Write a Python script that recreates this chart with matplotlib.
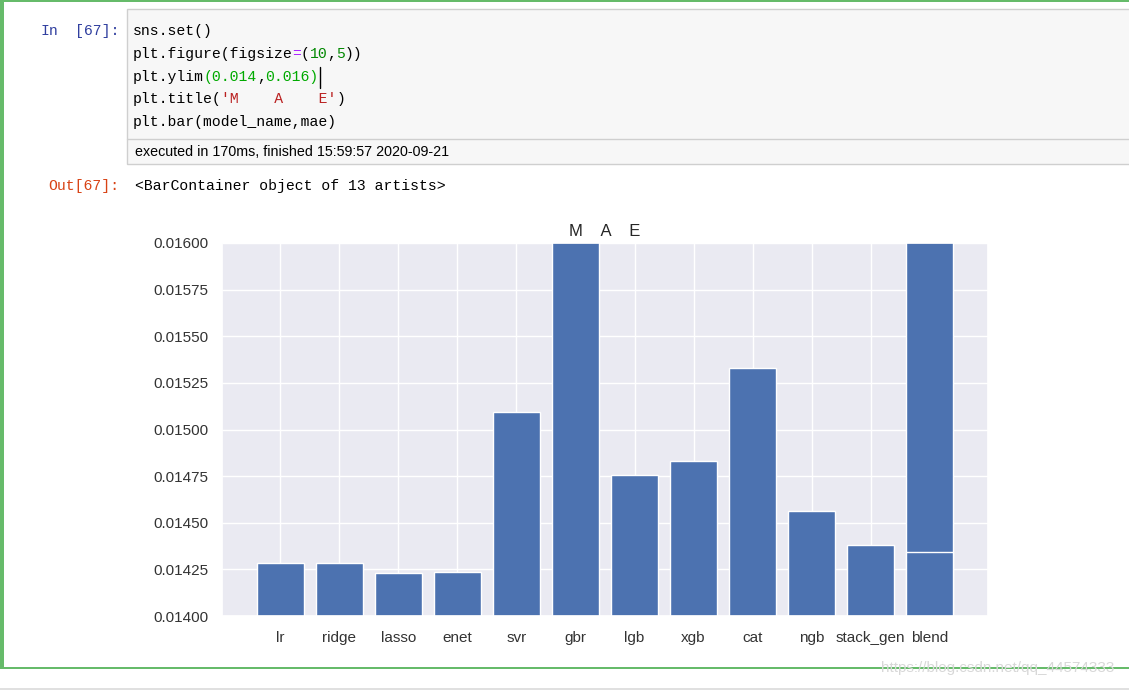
import matplotlib
matplotlib.use("Agg")
import matplotlib.pyplot as plt
from matplotlib.patches import Rectangle
import seaborn as sns

# values (two bars share the "blend" slot)
model_name = ["lr", "ridge", "lasso", "enet", "svr", "gbr", "lgb", "xgb",
              "cat", "ngb", "stack_gen", "blend", "blend"]
mae = [0.014282, 0.014282, 0.014232, 0.014237, 0.015093, 0.016800, 0.014754,
       0.014829, 0.015328, 0.014564, 0.014380, 0.017000, 0.014344]
y_ticks = [0.01400, 0.01425, 0.01450, 0.01475, 0.01500,
           0.01525, 0.01550, 0.01575, 0.01600]

CODE_LINES = [
    [("sns.set()", "black")],
    [("plt.figure(figsize", "black"), ("=", "#AA22FF"), ("(", "black"),
     ("10", "#008800"), (",", "black"), ("5", "#008800"), ("))", "black")],
    [("plt.ylim", "black"), ("(0.014", "#00AA00"), (",", "black"),
     ("0.016)", "#00AA00")],
    [("plt.title(", "black"), ("'M    A    E'", "#BA2121"), (")", "black")],
    [("plt.bar(model_name,mae)", "black")],
]

W, H, DPI = 1129, 690, 100
MONO = "Liberation Mono"
SANS = ["Liberation Sans", "DejaVu Sans"]

sns.set()
plt.rcParams["font.family"] = SANS

fig = plt.figure(figsize=(W / DPI, H / DPI), dpi=DPI)
fig.patch.set_facecolor("white")

# background axes in pixel coordinates for the notebook chrome
bg = fig.add_axes([0, 0, 1, 1])
bg.set_xlim(0, W)
bg.set_ylim(H, 0)
bg.axis("off")

green = "#66BB6A"
bg.add_patch(Rectangle((0, 0), W, 2, color=green, lw=0))
bg.add_patch(Rectangle((0, 0), 3.5, 668, color=green, lw=0))
bg.add_patch(Rectangle((0, 667), W, 1.5, color=green, lw=0))
bg.add_patch(Rectangle((0, 688), W, 2, color="#e0e0e0", lw=0))

# code cell box
bg.add_patch(Rectangle((127, 8.5), W, 155.5, facecolor="#f7f7f7",
                       edgecolor="#cfcfcf", lw=1))
bg.plot([127, W], [139, 139], color="#cfcfcf", lw=1)

fs_code = 10.6
cw = 0.6 * fs_code * DPI / 72
x0, y0, lh = 133, 31, 22.8
for i, line in enumerate(CODE_LINES):
    n = 0
    for txt, col in line:
        bg.text(x0 + n * cw, y0 + i * lh, txt, family=MONO, fontsize=fs_code,
                color=col, va="center", ha="left")
        n += len(txt)
# editor cursor
bg.plot([x0 + 21 * cw + 1, x0 + 21 * cw + 1], [67, 88], color="black", lw=1)

bg.text(40, y0, "In", family=MONO, fontsize=fs_code, color="#303F9F",
        va="center", ha="left")
bg.text(119, y0, "[67]:", family=MONO, fontsize=fs_code, color="#303F9F",
        va="center", ha="right")
bg.text(135, 152, "executed in 170ms, finished 15:59:57 2020-09-21",
        family=SANS, fontsize=10.3, color="black", va="center", ha="left")
bg.text(119, 186, "Out[67]:", family=MONO, fontsize=fs_code, color="#D84315",
        va="center", ha="right")
bg.text(135, 186, "<BarContainer object of 13 artists>", family=MONO,
        fontsize=fs_code, color="black", va="center", ha="left")

# the chart itself
ax_l, ax_r, ax_t, ax_b = 222, 988, 243, 616
ax = fig.add_axes([ax_l / W, (H - ax_b) / H, (ax_r - ax_l) / W, (ax_b - ax_t) / H])
ax.bar(model_name, mae, color="#4C72B0", edgecolor="white", linewidth=1)
ax.set_ylim(0.014, 0.016)
ax.set_yticks(y_ticks)
ax.set_yticklabels([f"{v:.5f}" for v in y_ticks])
ax.set_title("M    A    E", fontsize=12, color="#262626", pad=5)
ax.tick_params(axis="y", labelsize=11, pad=4, colors="#333333")
ax.tick_params(axis="x", labelsize=11, pad=5, colors="#333333")

bg.text(998, 668, "https://blog.csdn.net/qq_44574333", family=SANS,
        fontsize=11, color="#d8d8d8", va="center", ha="center", zorder=5)

fig.savefig("out.png", dpi=DPI)
